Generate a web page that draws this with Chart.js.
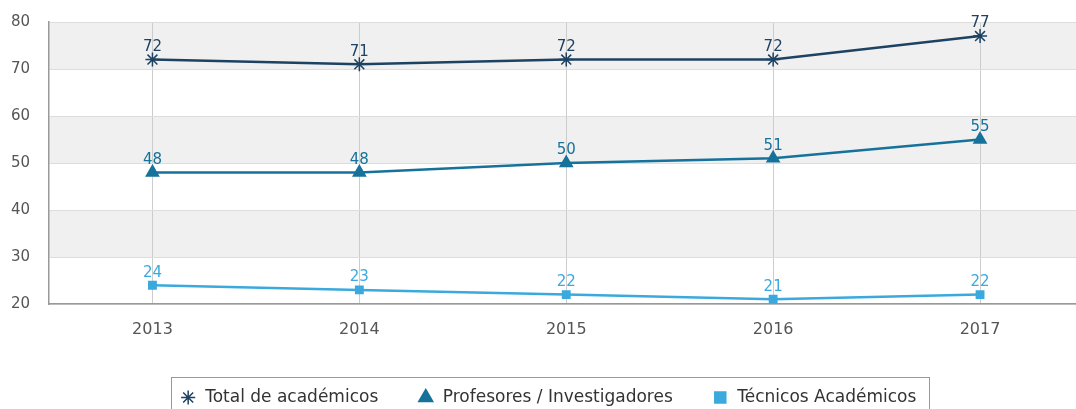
<!DOCTYPE html>
<html>
<head>
<meta charset="utf-8">
<script src="https://cdn.jsdelivr.net/npm/chart.js@4.4.1/dist/chart.umd.min.js"></script>
<style>
  html, body { margin: 0; padding: 0; background: #fff; overflow: hidden; }
  #wrap { width: 1092px; height: 409px; }
</style>
</head>
<body>
<div id="wrap"><canvas id="chart"></canvas></div>
<script>
'use strict';

var years       = ['2013', '2014', '2015', '2016', '2017'];
var totalAcad   = [72, 71, 72, 72, 77];
var profesores  = [48, 48, 50, 51, 55];
var tecnicos    = [24, 23, 22, 21, 22];
var yTicks      = [20, 30, 40, 50, 60, 70, 80];

// Shaded horizontal bands behind the plot
var bands = [[70, 80], [50, 60], [30, 40]];

var FONT = '"DejaVu Sans", sans-serif';

var bandPlugin = {
    id: 'bands',
    beforeDraw: function (chart) {
        var ctx  = chart.ctx;
        var area = chart.chartArea;
        var y    = chart.scales.y;
        ctx.save();
        ctx.fillStyle = '#f0f0f0';
        bands.forEach(function (b) {
            var top = y.getPixelForValue(b[1]);
            var bot = y.getPixelForValue(b[0]);
            ctx.fillRect(area.left, top, area.right - area.left, bot - top);
        });
        ctx.restore();
    }
};

// Value labels over each point
var valueLabels = {
    id: 'valueLabels',
    afterDatasetsDraw: function (chart) {
        var ctx = chart.ctx;
        ctx.save();
        ctx.font = '15px ' + FONT;
        ctx.textAlign = 'center';
        ctx.textBaseline = 'bottom';
        chart.data.datasets.forEach(function (ds, i) {
            var meta = chart.getDatasetMeta(i);
            ctx.fillStyle = ds.borderColor;
            meta.data.forEach(function (pt, j) {
                ctx.fillText(String(ds.data[j]), pt.x, pt.y - 5);
            });
        });
        ctx.restore();
    }
};

// Frame around the legend
var legendBox = {
    id: 'legendBox',
    afterDraw: function (chart) {
        var lg = chart.legend;
        if (!lg || !lg.legendHitBoxes.length) {
            return;
        }
        var boxes = lg.legendHitBoxes;
        var first = boxes[0];
        var last  = boxes[boxes.length - 1];
        var ctx = chart.ctx;
        ctx.save();
        ctx.strokeStyle = '#999';
        ctx.lineWidth = 1;
        var x0 = Math.round(first.left - 9) + 0.5;
        var x1 = Math.round(last.left + last.width + 13) + 0.5;
        var y0 = Math.round(first.top - 12) + 0.5;
        ctx.strokeRect(x0, y0, x1 - x0, 60);
        ctx.restore();
    }
};

new Chart(document.getElementById('chart'), {
    type: 'line',
    data: {
        labels: years,
        datasets: [
            {
                label: 'Total de académicos',
                data: totalAcad,
                borderColor: '#1e4262',
                backgroundColor: '#1e4262',
                borderWidth: 2.5,
                pointStyle: 'star',
                pointRadius: 7,
                pointBorderWidth: 1.5
            },
            {
                label: 'Profesores / Investigadores',
                data: profesores,
                borderColor: '#16729a',
                backgroundColor: '#16729a',
                borderWidth: 2.5,
                pointStyle: 'triangle',
                pointRadius: 6
            },
            {
                label: 'Técnicos Académicos',
                data: tecnicos,
                borderColor: '#3ba9dd',
                backgroundColor: '#3ba9dd',
                borderWidth: 2.5,
                pointStyle: 'rect',
                pointRadius: 4.5
            }
        ]
    },
    options: {
        responsive: true,
        maintainAspectRatio: false,
        animation: false,
        layout: { padding: { top: 22, left: 10, right: 6, bottom: 0 } },
        scales: {
            x: {
                offset: true,
                grid: { color: '#cccccc', offset: false, drawTicks: false },
                border: { color: '#999999', width: 1.5 },
                ticks: { color: '#555', font: { family: FONT, size: 16 }, padding: 16 },
                afterFit: function (scale) { scale.height = 46; }
            },
            y: {
                min: 20,
                max: 80,
                afterBuildTicks: function (axis) {
                    axis.ticks = yTicks.map(function (v) { return { value: v }; });
                },
                grid: { color: '#dddddd', drawTicks: false },
                border: { color: '#999999', width: 1.5 },
                ticks: { color: '#555', font: { family: FONT, size: 15 }, padding: 19 },
                afterFit: function (scale) {
                    scale.width = 39;
                    // keep the tick padding from pushing the plot down
                    scale.paddingTop = 0;
                    scale.paddingBottom = 0;
                }
            }
        },
        plugins: {
            legend: {
                position: 'bottom',
                maxHeight: 59,
                labels: {
                    usePointStyle: true,
                    boxWidth: 17,
                    boxHeight: 10,
                    padding: 39,
                    color: '#333',
                    font: { family: FONT, size: 17 }
                }
            },
            tooltip: { enabled: false }
        }
    },
    plugins: [bandPlugin, valueLabels, legendBox]
});
</script>
</body>
</html>
